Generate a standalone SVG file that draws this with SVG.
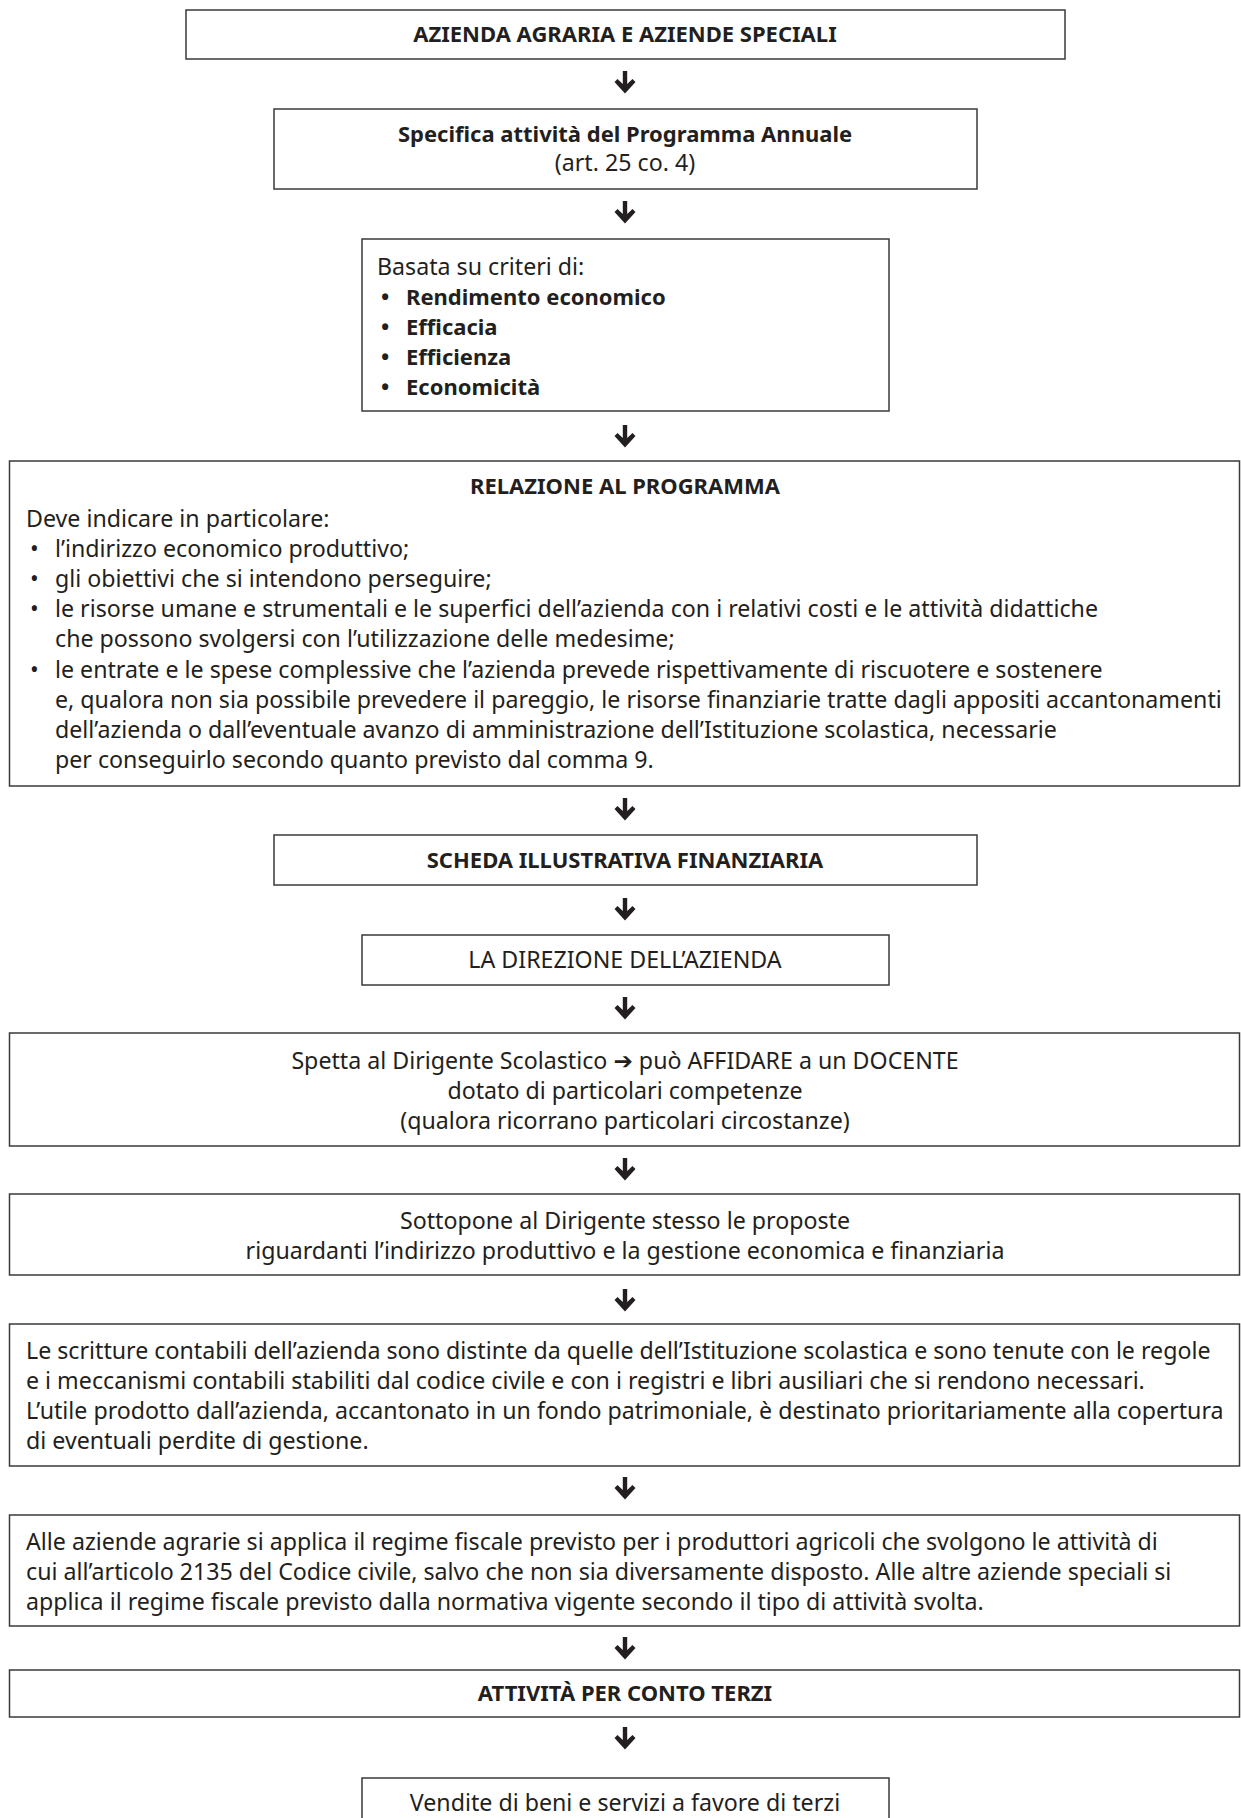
<svg xmlns="http://www.w3.org/2000/svg" width="1241" height="1818" viewBox="0 0 1241 1818">
<style>
.box{fill:#fff;stroke:#3a3a3a;stroke-width:1.5}
.t{font-family:"Noto Sans","Open Sans","DejaVu Sans",sans-serif;font-size:23.2px;fill:#231f20}
.b{font-weight:bold;font-size:22px}
.c{text-anchor:middle}
.arr{fill:#231f20}
</style>
<defs>
<path id="arrow" d="M-2.2,0 L2.2,0 L2.2,13 L7.5,8 L10.5,11 L0,22.5 L-10.5,11 L-7.5,8 L-2.2,13 Z"/>
</defs>
<g id="connectors" class="arr">
<use href="#arrow" x="625" y="71"/>
<use href="#arrow" x="625" y="201"/>
<use href="#arrow" x="625" y="425"/>
<use href="#arrow" x="625" y="798"/>
<use href="#arrow" x="625" y="898"/>
<use href="#arrow" x="625" y="997"/>
<use href="#arrow" x="625" y="1158"/>
<use href="#arrow" x="625" y="1289"/>
<use href="#arrow" x="625" y="1477"/>
<use href="#arrow" x="625" y="1637"/>
<use href="#arrow" x="625" y="1727"/>
</g>
<g id="n1">
<rect class="box" x="186" y="10" width="879" height="49"/>
<text class="t b c" x="625" y="42">AZIENDA AGRARIA E AZIENDE SPECIALI</text>
</g>
<g id="n2">
<rect class="box" x="274" y="109" width="703" height="80"/>
<text class="t b c" x="625" y="142">Specifica attività del Programma Annuale</text>
<text class="t c" x="625" y="171">(art. 25 co. 4)</text>
</g>
<g id="n3">
<rect class="box" x="362" y="239" width="527" height="172"/>
<text class="t" x="377" y="275">Basata su criteri di:</text>
<text class="t b" x="381" y="305">•<tspan x="406">Rendimento economico</tspan></text>
<text class="t b" x="381" y="335">•<tspan x="406">Efficacia</tspan></text>
<text class="t b" x="381" y="365">•<tspan x="406">Efficienza</tspan></text>
<text class="t b" x="381" y="395">•<tspan x="406">Economicità</tspan></text>
</g>
<g id="n4">
<rect class="box" x="9.5" y="461" width="1230" height="325"/>
<text class="t b c" x="625" y="494">RELAZIONE AL PROGRAMMA</text>
<text class="t" x="26" y="527">Deve indicare in particolare:</text>
<text class="t" x="30" y="557">•<tspan x="55">l’indirizzo economico produttivo;</tspan></text>
<text class="t" x="30" y="587">•<tspan x="55">gli obiettivi che si intendono perseguire;</tspan></text>
<text class="t" x="30" y="617">•<tspan x="55">le risorse umane e strumentali e le superfici dell’azienda con i relativi costi e le attività didattiche</tspan></text>
<text class="t" x="55" y="647">che possono svolgersi con l’utilizzazione delle medesime;</text>
<text class="t" x="30" y="678">•<tspan x="55">le entrate e le spese complessive che l’azienda prevede rispettivamente di riscuotere e sostenere</tspan></text>
<text class="t" x="55" y="708">e, qualora non sia possibile prevedere il pareggio, le risorse finanziarie tratte dagli appositi accantonamenti</text>
<text class="t" x="55" y="738">dell’azienda o dall’eventuale avanzo di amministrazione dell’Istituzione scolastica, necessarie</text>
<text class="t" x="55" y="768">per conseguirlo secondo quanto previsto dal comma 9.</text>
</g>
<g id="n5">
<rect class="box" x="274" y="835" width="703" height="50"/>
<text class="t b c" x="625" y="868">SCHEDA ILLUSTRATIVA FINANZIARIA</text>
</g>
<g id="n6">
<rect class="box" x="362" y="935" width="527" height="50"/>
<text class="t c" x="625" y="968">LA DIREZIONE DELL’AZIENDA</text>
</g>
<g id="n7">
<rect class="box" x="9.5" y="1033" width="1230" height="113"/>
<text class="t c" x="625" y="1069">Spetta al Dirigente Scolastico <tspan font-family="DejaVu Sans" font-weight="bold">➔</tspan> può AFFIDARE a un DOCENTE</text>
<text class="t c" x="625" y="1099">dotato di particolari competenze</text>
<text class="t c" x="625" y="1129">(qualora ricorrano particolari circostanze)</text>
</g>
<g id="n8">
<rect class="box" x="9.5" y="1194" width="1230" height="81"/>
<text class="t c" x="625" y="1229">Sottopone al Dirigente stesso le proposte</text>
<text class="t c" x="625" y="1259">riguardanti l’indirizzo produttivo e la gestione economica e finanziaria</text>
</g>
<g id="n9">
<rect class="box" x="9.5" y="1324" width="1230" height="142"/>
<text class="t" x="26" y="1359">Le scritture contabili dell’azienda sono distinte da quelle dell’Istituzione scolastica e sono tenute con le regole</text>
<text class="t" x="26" y="1389">e i meccanismi contabili stabiliti dal codice civile e con i registri e libri ausiliari che si rendono necessari.</text>
<text class="t" x="26" y="1419">L’utile prodotto dall’azienda, accantonato in un fondo patrimoniale, è destinato prioritariamente alla copertura</text>
<text class="t" x="26" y="1449">di eventuali perdite di gestione.</text>
</g>
<g id="n10">
<rect class="box" x="9.5" y="1515" width="1230" height="111"/>
<text class="t" x="26" y="1550">Alle aziende agrarie si applica il regime fiscale previsto per i produttori agricoli che svolgono le attività di</text>
<text class="t" x="26" y="1580">cui all’articolo 2135 del Codice civile, salvo che non sia diversamente disposto. Alle altre aziende speciali si</text>
<text class="t" x="26" y="1610">applica il regime fiscale previsto dalla normativa vigente secondo il tipo di attività svolta.</text>
</g>
<g id="n11">
<rect class="box" x="9.5" y="1670" width="1230" height="47"/>
<text class="t b c" x="625" y="1701">ATTIVITÀ PER CONTO TERZI</text>
</g>
<g id="n12">
<rect class="box" x="362" y="1778" width="527" height="60"/>
<text class="t c" x="625" y="1811">Vendite di beni e servizi a favore di terzi</text>
</g>
</svg>
